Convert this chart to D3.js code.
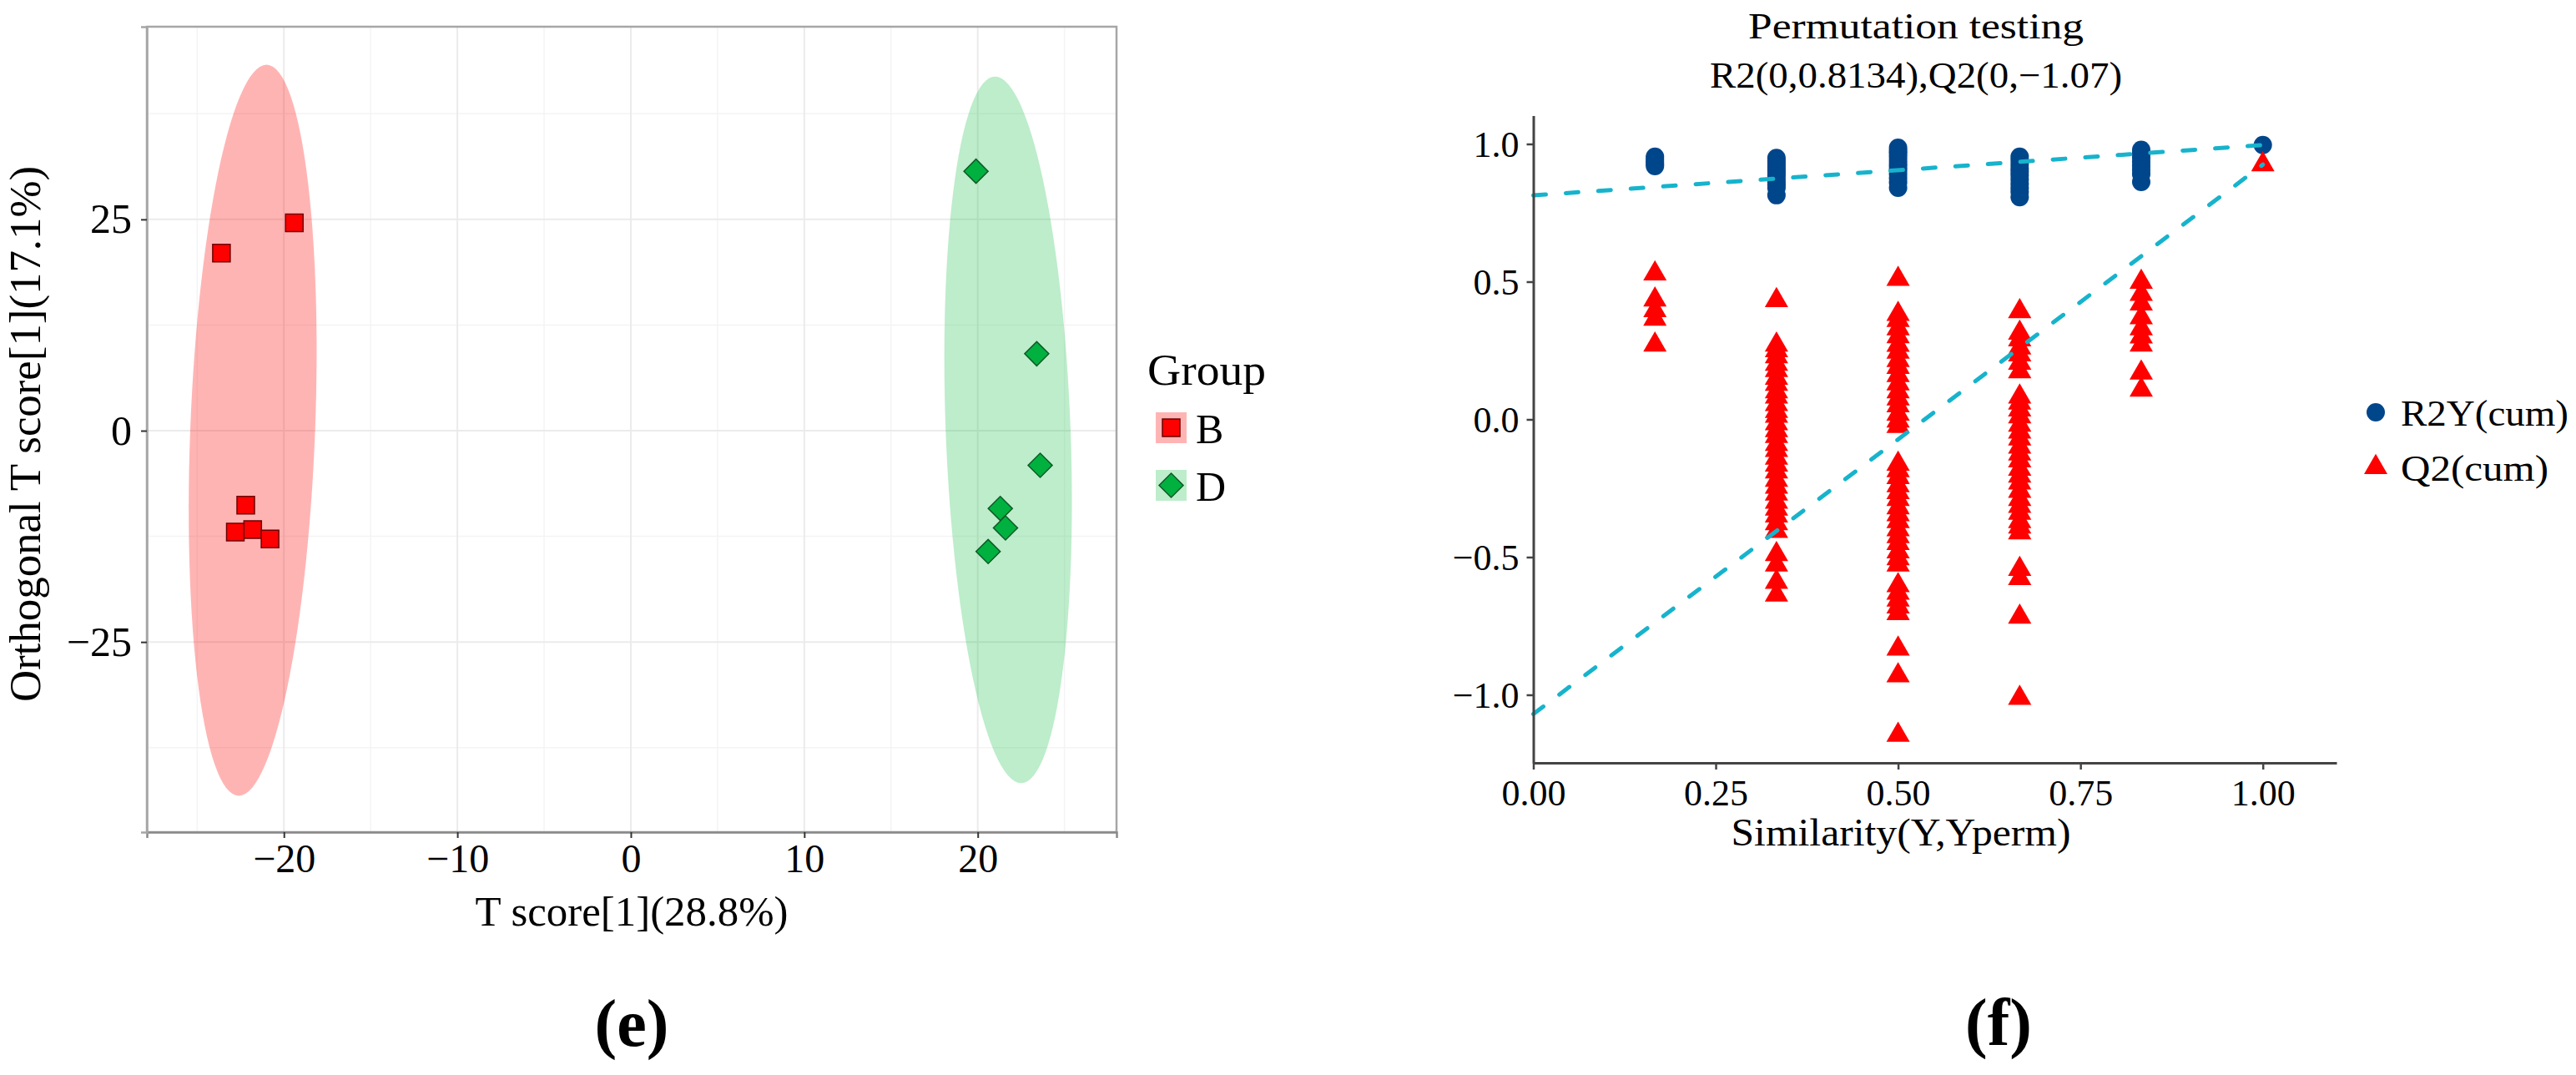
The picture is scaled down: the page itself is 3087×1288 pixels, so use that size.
<!DOCTYPE html>
<html>
<head>
<meta charset="utf-8">
<script src="https://cdn.jsdelivr.net/npm/d3@7"></script>
<style>
  html, body { margin: 0; padding: 0; background: #ffffff; }
  svg { display: block; }
  text { font-family: "Liberation Serif", "DejaVu Serif", serif; fill: #000; }
</style>
</head>
<body>
<script>
// ---------------- Panel (e): OPLS-DA score plot ----------------
const groups = ["B", "D"];
const scoreBx = [-23.6, -19.4, -22.2, -22.8, -21.8, -20.8];
const scoreBy = [21.0, 24.6, -8.8, -12.0, -11.7, -12.8];
const scoreDx = [19.9, 23.4, 23.6, 21.3, 21.6, 20.6];
const scoreDy = [30.7, 9.1, -4.1, -9.2, -11.5, -14.3];
// ellipse: [centre x, centre y, radius x, radius y, shear (dx per dy)]
const ellipseB = [-21.8, 0.05, 3.6, 43.25, 0.0185];
const ellipseD = [21.75, 0.1, 3.6, 41.8, -0.018];
const xTicksE = [-20, -10, 0, 10, 20];
const xMinorE = [-25, -15, -5, 5, 15, 25];
const yTicksE = [-25, 0, 25];
const yMinorE = [-37.5, -12.5, 12.5, 37.5];

// ---------------- Panel (f): permutation test ----------------
const similarity = [0.1667, 0.3333, 0.5, 0.6667, 0.8333, 1.0];
const r2yValues = [
  [0.954, 0.945, 0.936, 0.928, 0.920],
  [0.949, 0.940, 0.931, 0.922, 0.911, 0.902, 0.894, 0.884, 0.871, 0.860, 0.851, 0.840, 0.814],
  [0.986, 0.975, 0.966, 0.954, 0.941, 0.929, 0.918, 0.905, 0.891, 0.876, 0.860, 0.841],
  [0.954, 0.941, 0.926, 0.912, 0.899, 0.886, 0.871, 0.855, 0.840, 0.826, 0.807],
  [0.979, 0.966, 0.951, 0.936, 0.921, 0.906, 0.890, 0.862],
  [0.996]
];
const q2Values = [
  [0.529, 0.434, 0.396, 0.365, 0.271],
  [0.432, 0.271, 0.250, 0.228, 0.201, 0.178, 0.150, 0.128, 0.101, 0.082, 0.055, 0.030, 0.012,
   -0.015, -0.040, -0.061, -0.090, -0.112, -0.140, -0.165, -0.190, -0.220, -0.245, -0.270,
   -0.300, -0.325, -0.350, -0.378, -0.406, -0.490, -0.528, -0.591, -0.637],
  [0.509, 0.382, 0.360, 0.330, 0.301, 0.270, 0.245, 0.215, 0.190, 0.160, 0.130, 0.101, 0.075,
   0.050, 0.020, -0.005, -0.025, -0.162, -0.185, -0.210, -0.240, -0.265, -0.290, -0.320,
   -0.345, -0.370, -0.400, -0.425, -0.450, -0.480, -0.505, -0.528, -0.603, -0.630, -0.655,
   -0.680, -0.704, -0.833, -0.930, -1.146],
  [0.392, 0.314, 0.290, 0.260, 0.235, 0.205, 0.174, 0.082, 0.060, 0.035, 0.010, -0.020,
   -0.045, -0.070, -0.100, -0.125, -0.150, -0.180, -0.205, -0.230, -0.260, -0.290, -0.315,
   -0.340, -0.370, -0.390, -0.411, -0.544, -0.577, -0.717, -1.012],
  [0.499, 0.455, 0.420, 0.370, 0.330, 0.300, 0.271, 0.169, 0.107],
  [0.925]
];
const r2Intercept = 0.8134;
const q2Intercept = -1.07;
const xTicksF = [0, 0.25, 0.5, 0.75, 1.0];
const yTicksF = [-1.0, -0.5, 0, 0.5, 1.0];
const legendF = ["R2Y(cum)", "Q2(cum)"];

// ---------------- drawing ----------------
const W = 3087, H = 1288;
const svg = d3.select("body").append("svg").attr("width", W).attr("height", H)
  .attr("viewBox", `0 0 ${W} ${H}`);
svg.append("rect").attr("width", W).attr("height", H).attr("fill", "#fff");

// ===== Panel e =====
const pe = { left: 176, right: 1338, top: 32, bottom: 997 };
const xE = d3.scaleLinear().domain([-27.9, 28.0]).range([pe.left, pe.right]);
const yE = d3.scaleLinear().domain([-47.5, 47.8]).range([pe.bottom, pe.top]);
const gE = svg.append("g");

// grid
gE.selectAll(".gxm").data(xMinorE).join("line")
  .attr("x1", d => xE(d)).attr("x2", d => xE(d)).attr("y1", pe.top).attr("y2", pe.bottom)
  .attr("stroke", "#f4f4f4").attr("stroke-width", 1.5);
gE.selectAll(".gym").data(yMinorE).join("line")
  .attr("y1", d => yE(d)).attr("y2", d => yE(d)).attr("x1", pe.left).attr("x2", pe.right)
  .attr("stroke", "#f4f4f4").attr("stroke-width", 1.5);
gE.selectAll(".gx").data(xTicksE).join("line")
  .attr("x1", d => xE(d)).attr("x2", d => xE(d)).attr("y1", pe.top).attr("y2", pe.bottom)
  .attr("stroke", "#ebebeb").attr("stroke-width", 2);
gE.selectAll(".gy").data(yTicksE).join("line")
  .attr("y1", d => yE(d)).attr("y2", d => yE(d)).attr("x1", pe.left).attr("x2", pe.right)
  .attr("stroke", "#ebebeb").attr("stroke-width", 2);

// ellipses
const groupStyle = {
  B: { fill: "rgb(255,5,5)", alpha: 0.3, mark: "#ff0000", stroke: "#6e0000", shape: "square" },
  D: { fill: "rgb(11,188,62)", alpha: 0.27, mark: "#00b13f", stroke: "#0f5a26", shape: "diamond" }
};
const tSteps = d3.range(0, 361, 3).map(a => a * Math.PI / 180);
function ellipsePath(p) {
  const [cx, cy, rx, ry, s] = p;
  const line = d3.line()
    .x(t => xE(cx + rx * Math.cos(t) + s * ry * Math.sin(t)))
    .y(t => yE(cy + ry * Math.sin(t)));
  return line(tSteps) + "Z";
}
[["B", ellipseB], ["D", ellipseD]].forEach(([g, p]) => {
  gE.append("path").attr("d", ellipsePath(p))
    .attr("fill", groupStyle[g].fill).attr("fill-opacity", groupStyle[g].alpha);
});

// points
const squareSym = d3.symbol(d3.symbolSquare, 441)();
const diamondSym = d3.symbol(d3.symbolSquare, 420)();
const ptsB = scoreBx.map((x, i) => ({ x, y: scoreBy[i] }));
const ptsD = scoreDx.map((x, i) => ({ x, y: scoreDy[i] }));
gE.selectAll(".pb").data(ptsB).join("path")
  .attr("d", squareSym)
  .attr("transform", d => `translate(${xE(d.x)},${yE(d.y)})`)
  .attr("fill", groupStyle.B.mark).attr("stroke", groupStyle.B.stroke).attr("stroke-width", 1.5);
gE.selectAll(".pd").data(ptsD).join("path")
  .attr("d", diamondSym)
  .attr("transform", d => `translate(${xE(d.x)},${yE(d.y)}) rotate(45)`)
  .attr("fill", groupStyle.D.mark).attr("stroke", groupStyle.D.stroke).attr("stroke-width", 1.5);

// border
gE.append("rect").attr("x", pe.left).attr("y", pe.top)
  .attr("width", pe.right - pe.left).attr("height", pe.bottom - pe.top)
  .attr("fill", "none").attr("stroke", "#a6a6a6").attr("stroke-width", 2.5);

// axes
const axE_x = gE.append("g").attr("transform", `translate(0,${pe.bottom})`)
  .call(d3.axisBottom(xE).tickValues(xTicksE).tickSize(7).tickFormat(d3.format("d")));
axE_x.select(".domain").attr("stroke", "#8a8a8a").attr("stroke-width", 2.5);
axE_x.selectAll(".tick line").attr("stroke", "#333").attr("stroke-width", 2);
axE_x.selectAll(".tick text").attr("dy", null).attr("y", 48)
  .style("font-size", "48px").style("font-family", "Liberation Serif").attr("fill", "#000");

const axE_y = gE.append("g").attr("transform", `translate(${pe.left},0)`)
  .call(d3.axisLeft(yE).tickValues(yTicksE).tickSize(7).tickFormat(d3.format("d")));
axE_y.select(".domain").attr("stroke", "#a6a6a6").attr("stroke-width", 2.5);
axE_y.selectAll(".tick line").attr("stroke", "#333").attr("stroke-width", 2);
axE_y.selectAll(".tick text").attr("dy", null).attr("y", 16).attr("x", -18)
  .style("font-size", "50px").style("font-family", "Liberation Serif").attr("fill", "#000");

// axis titles
gE.append("text").attr("x", 757).attr("y", 1109).attr("text-anchor", "middle")
  .style("font-size", "50px").attr("textLength", 375).attr("lengthAdjust", "spacingAndGlyphs")
  .text("T score[1](28.8%)");
gE.append("text").attr("transform", "translate(48,520) rotate(-90)").attr("text-anchor", "middle")
  .style("font-size", "52px").attr("textLength", 642).attr("lengthAdjust", "spacingAndGlyphs")
  .text("Orthogonal T score[1](17.1%)");

// legend e
gE.append("text").attr("x", 1375).attr("y", 461).style("font-size", "52px")
  .attr("textLength", 142).attr("lengthAdjust", "spacingAndGlyphs").text("Group");
groups.forEach((g, i) => {
  const ky = 494 + i * 69;
  gE.append("rect").attr("x", 1385).attr("y", ky).attr("width", 37).attr("height", 37)
    .attr("fill", groupStyle[g].fill).attr("fill-opacity", groupStyle[g].alpha);
  const isSq = groupStyle[g].shape === "square";
  gE.append("path").attr("d", isSq ? squareSym : diamondSym)
    .attr("transform", `translate(1403.5,${ky + 18.5})` + (isSq ? "" : " rotate(45)"))
    .attr("fill", groupStyle[g].mark).attr("stroke", groupStyle[g].stroke).attr("stroke-width", 1.5);
  gE.append("text").attr("x", 1433).attr("y", ky + 37).style("font-size", "50px").text(g);
});

// label (e)
svg.append("text").attr("x", 757).attr("y", 1253).attr("text-anchor", "middle")
  .style("font-size", "80px").style("font-weight", "bold").text("(e)");

// ===== Panel f =====
const pf = { left: 1837.5, right: 2800, top: 138.5, bottom: 914 };
const xF = d3.scaleLinear().domain([0, 1.101]).range([pf.left, pf.right]);
const yF = d3.scaleLinear().domain([-1.247, 1.103]).range([pf.bottom, pf.top]);
const gF = svg.append("g");

const blue = "#00468b", red = "#ff0000", cyan = "#17b3cc";

const r2Pts = similarity.flatMap((s, i) => r2yValues[i].map(v => ({ s, v })));
const q2Pts = similarity.flatMap((s, i) => q2Values[i].map(v => ({ s, v })));

const circleSym = d3.symbol(d3.symbolCircle, 380)();
const triSym = d3.symbol(d3.symbolTriangle, 340)();

gF.selectAll(".r2").data(r2Pts).join("path").attr("d", circleSym)
  .attr("transform", d => `translate(${xF(d.s)},${yF(d.v)})`).attr("fill", blue);
gF.selectAll(".q2").data(q2Pts).join("path").attr("d", triSym)
  .attr("transform", d => `translate(${xF(d.s)},${yF(d.v)})`).attr("fill", red);

// regression lines
const lastIdx = similarity.length - 1;
const lineF = d3.line().x(d => xF(d[0])).y(d => yF(d[1]));
const r2Line = [[0, r2Intercept], [similarity[lastIdx], r2yValues[lastIdx][0]]];
const q2Line = [[0, q2Intercept], [similarity[lastIdx], q2Values[lastIdx][0]]];
[r2Line, q2Line].forEach(l => {
  gF.append("path").attr("d", lineF(l)).attr("fill", "none").attr("stroke", cyan)
    .attr("stroke-width", 5).attr("stroke-dasharray", "15,24").attr("stroke-linecap", "round");
});

// axes f
const axF_x = gF.append("g").attr("transform", `translate(0,${pf.bottom})`)
  .call(d3.axisBottom(xF).tickValues(xTicksF).tickSize(8).tickSizeOuter(0).tickFormat(d3.format(".2f")));
axF_x.select(".domain").attr("stroke", "#444").attr("stroke-width", 3);
axF_x.selectAll(".tick line").attr("stroke", "#444").attr("stroke-width", 2.5);
axF_x.selectAll(".tick text").attr("dy", null).attr("y", 51)
  .style("font-size", "44px").style("font-family", "Liberation Serif").attr("fill", "#000");

const axF_y = gF.append("g").attr("transform", `translate(${pf.left},0)`)
  .call(d3.axisLeft(yF).tickValues(yTicksF).tickSize(8).tickSizeOuter(0).tickFormat(d3.format(".1f")));
axF_y.select(".domain").attr("stroke", "#444").attr("stroke-width", 3);
axF_y.selectAll(".tick line").attr("stroke", "#444").attr("stroke-width", 2.5);
axF_y.selectAll(".tick text").attr("dy", null).attr("y", 15).attr("x", -17)
  .style("font-size", "44px").style("font-family", "Liberation Serif").attr("fill", "#000");

// titles f
gF.append("text").attr("x", 2296).attr("y", 46).attr("text-anchor", "middle")
  .style("font-size", "44px").attr("textLength", 402).attr("lengthAdjust", "spacingAndGlyphs")
  .text("Permutation testing");
gF.append("text").attr("x", 2296).attr("y", 105).attr("text-anchor", "middle")
  .style("font-size", "44px").attr("textLength", 494).attr("lengthAdjust", "spacingAndGlyphs")
  .text("R2(0,0.8134),Q2(0,\u22121.07)");
gF.append("text").attr("x", 2278).attr("y", 1013).attr("text-anchor", "middle")
  .style("font-size", "46px").attr("textLength", 407).attr("lengthAdjust", "spacingAndGlyphs")
  .text("Similarity(Y,Yperm)");

// legend f
const legW = [201, 177];
legendF.forEach((name, i) => {
  const cy = 494 + i * 66;
  gF.append("path").attr("d", i === 0 ? circleSym : triSym)
    .attr("transform", `translate(2847,${cy})`).attr("fill", i === 0 ? blue : red);
  gF.append("text").attr("x", 2877).attr("y", cy + 16).style("font-size", "44px")
    .attr("textLength", legW[i]).attr("lengthAdjust", "spacingAndGlyphs").text(name);
});

// label (f)
svg.append("text").attr("x", 2395).attr("y", 1252).attr("text-anchor", "middle")
  .style("font-size", "80px").style("font-weight", "bold").text("(f)");
</script>
</body>
</html>
